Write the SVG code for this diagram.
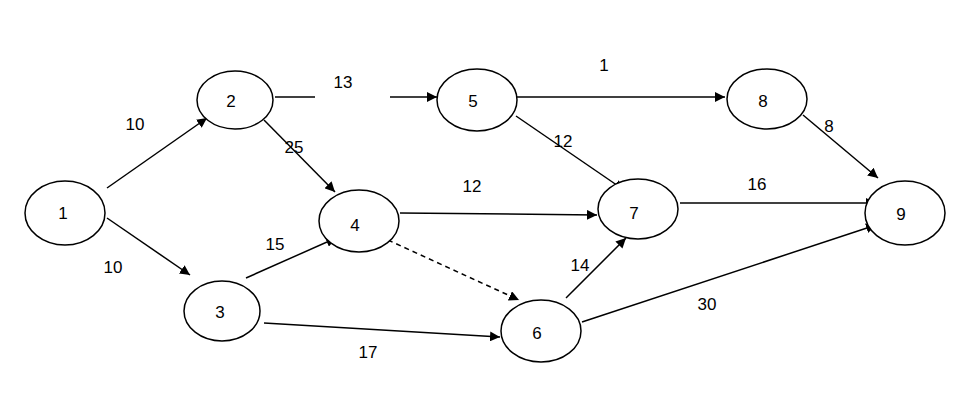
<svg xmlns="http://www.w3.org/2000/svg" width="974" height="417" viewBox="0 0 974 417">
<style>
.n{fill:#fff;stroke:#000;stroke-width:1.5}
.t{font-family:"Liberation Sans",Arial,sans-serif;font-size:17px;fill:#000;text-anchor:middle;dominant-baseline:central}
.e{stroke:#000;stroke-width:1.5;fill:none}
.a{marker-end:url(#ah)}
</style>
<defs><marker id="ah" viewBox="0 0 10 10" refX="10" refY="5" markerWidth="8" markerHeight="8" markerUnits="userSpaceOnUse" orient="auto"><path d="M0,0L10,5L0,10z" fill="#000"/></marker>
<marker id="ah2" viewBox="0 0 10 10" refX="10" refY="5" markerWidth="10" markerHeight="10" markerUnits="userSpaceOnUse" orient="auto"><path d="M0,0L10,5L0,10z" fill="#000"/></marker></defs>
<rect width="974" height="417" fill="#fff"/>
<g id="connectors">
<line class="e" x1="107" y1="188" x2="207" y2="118" marker-end="url(#ah2)"/>
<line class="e" x1="107" y1="218" x2="190" y2="275" marker-end="url(#ah2)"/>
<line class="e" x1="275" y1="97" x2="315" y2="97"/>
<line class="e" x1="390" y1="97" x2="437" y2="97" marker-end="url(#ah2)"/>
<line class="e" x1="264" y1="120" x2="335" y2="192" marker-end="url(#ah2)"/>
<line class="e" x1="246" y1="278" x2="336" y2="238" marker-end="url(#ah2)"/>
<line class="e" x1="264" y1="323" x2="500" y2="337" marker-end="url(#ah2)"/>
<line class="e" x1="400" y1="213" x2="597" y2="215" marker-end="url(#ah2)"/>
<line class="e" x1="388" y1="240" x2="519" y2="300" stroke-dasharray="5,4" marker-end="url(#ah2)"/>
<line class="e" x1="517" y1="97" x2="725" y2="97" marker-end="url(#ah2)"/>
<line class="e" x1="516" y1="116" x2="624" y2="190" marker-end="url(#ah2)"/>
<line class="e" x1="566" y1="298" x2="626" y2="238" marker-end="url(#ah2)"/>
<line class="e" x1="582" y1="322" x2="876" y2="225" marker-end="url(#ah2)"/>
<line class="e" x1="680" y1="203" x2="876" y2="203" marker-end="url(#ah2)"/>
<line class="e" x1="803" y1="115" x2="878" y2="178" marker-end="url(#ah2)"/>
<text class="t" x="135" y="124">10</text>
<text class="t" x="113" y="267">10</text>
<text class="t" x="343" y="82">13</text>
<text class="t" x="294" y="147">25</text>
<text class="t" x="275" y="244">15</text>
<text class="t" x="368" y="352">17</text>
<text class="t" x="472" y="186">12</text>
<text class="t" x="604" y="65">1</text>
<text class="t" x="563" y="141">12</text>
<text class="t" x="580" y="265">14</text>
<text class="t" x="707" y="304">30</text>
<text class="t" x="757" y="184">16</text>
<text class="t" x="829" y="126">8</text>
</g>
<g id="n1"><ellipse class="n" cx="65" cy="213" rx="40" ry="32"/><text class="t" x="63" y="213">1</text></g>
<g id="n2"><ellipse class="n" cx="235" cy="100" rx="38" ry="29"/><text class="t" x="231" y="101">2</text></g>
<g id="n3"><ellipse class="n" cx="222" cy="311" rx="38" ry="30"/><text class="t" x="220" y="312">3</text></g>
<g id="n4"><ellipse class="n" cx="359" cy="221" rx="40" ry="31"/><text class="t" x="355" y="225">4</text></g>
<g id="n5"><ellipse class="n" cx="477" cy="100" rx="40" ry="31"/><text class="t" x="473" y="101">5</text></g>
<g id="n6"><ellipse class="n" cx="541" cy="331" rx="40" ry="31"/><text class="t" x="537" y="333">6</text></g>
<g id="n7"><ellipse class="n" cx="638" cy="209" rx="40" ry="30"/><text class="t" x="634" y="213">7</text></g>
<g id="n8"><ellipse class="n" cx="767" cy="99" rx="40" ry="30"/><text class="t" x="763" y="101">8</text></g>
<g id="n9"><ellipse class="n" cx="905" cy="213" rx="40" ry="32"/><text class="t" x="901" y="214">9</text></g>
</svg>
